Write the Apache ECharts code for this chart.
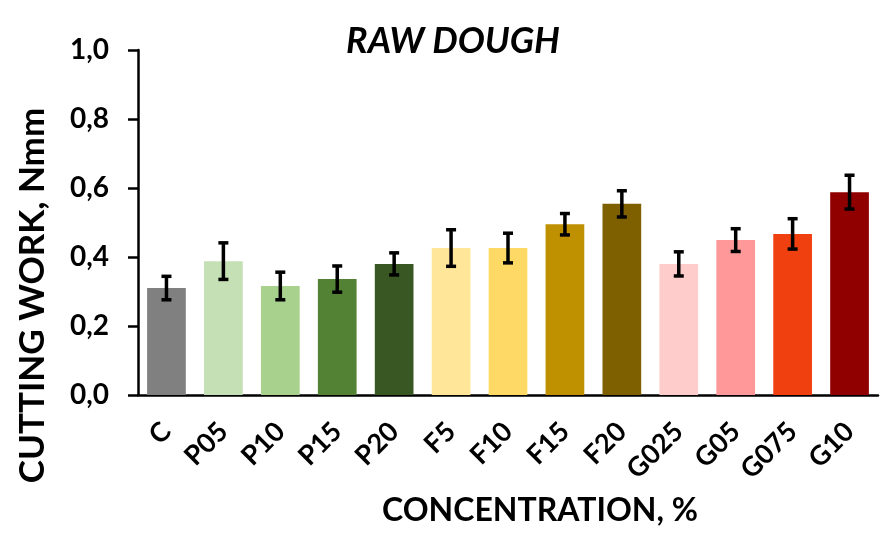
<!DOCTYPE html>
<html>
<head>
<meta charset="utf-8">
<script src="https://cdn.jsdelivr.net/npm/echarts@6/dist/echarts.min.js"></script>
<style>
	html, body { margin: 0; padding: 0; background: #fff; }
	#chart { width: 880px; height: 535px; }
</style>
</head>
<body>
<div id="chart"></div>
<script>
// sample names
var categories = ['C', 'P05', 'P10', 'P15', 'P20', 'F5', 'F10', 'F15', 'F20', 'G025', 'G05', 'G075', 'G10'];
// cutting work, Nmm
var meanValues = [0.31, 0.388, 0.316, 0.336, 0.38, 0.426, 0.426, 0.495, 0.554, 0.38, 0.449, 0.467, 0.588];
// standard deviation
var errValues = [0.034, 0.053, 0.04, 0.038, 0.032, 0.053, 0.043, 0.031, 0.038, 0.035, 0.033, 0.044, 0.049];
var barColors = ['#808080', '#c5e0b4', '#a9d18e', '#548235', '#385723', '#ffe699', '#ffd966', '#bf9000', '#7f6000', '#ffcccc', '#ff9999', '#f04010', '#900000'];

var font = 'Lato, "Open Sans", sans-serif';

var barData = meanValues.map(function(v, i) {
	return { value: v, itemStyle: { color: barColors[i] } };
});
var errData = meanValues.map(function(v, i) {
	return [i, v - errValues[i], v + errValues[i]];
});

var chart = echarts.init(document.getElementById('chart'));
chart.setOption({
	animation: false,
	title: {
		text: 'RAW DOUGH',
		left: 448,
		top: 18,
		textAlign: 'center',
		textStyle: { fontFamily: font, fontSize: 36, fontWeight: 'bold', fontStyle: 'italic', color: '#000' }
	},
	grid: { left: 138, right: 2, top: 50, bottom: 140 },
	xAxis: {
		type: 'category',
		data: categories,
		name: 'CONCENTRATION, %',
		nameLocation: 'middle',
		nameGap: 100,
		nameTextStyle: { fontFamily: font, fontSize: 32, fontWeight: 'bold', color: '#000', padding: [0, 0, 0, 64] },
		axisLine: { lineStyle: { color: '#000', width: 2.5 } },
		axisTick: { show: false },
		axisLabel: { rotate: 45, margin: 32, fontFamily: font, fontSize: 27, fontWeight: 'bold', color: '#000' }
	},
	yAxis: {
		type: 'value',
		min: 0,
		max: 1,
		interval: 0.2,
		name: 'CUTTING WORK, Nmm',
		nameLocation: 'middle',
		nameGap: 88,
		nameTextStyle: { fontFamily: font, fontSize: 35, fontWeight: 'bold', color: '#000', padding: [0, 146, 0, 0] },
		splitLine: { show: false },
		axisLine: { show: true, lineStyle: { color: '#000', width: 2.5 } },
		axisTick: { show: true, length: 10, lineStyle: { color: '#000', width: 2.5 } },
		axisLabel: {
			margin: 29,
			fontFamily: font,
			fontSize: 28,
			fontWeight: 'bold',
			color: '#000',
			formatter: function(v) { return v.toFixed(1).replace('.', ','); }
		}
	},
	series: [
		{
			type: 'bar',
			data: barData,
			barWidth: '68%'
		},
		{
			type: 'custom',
			data: errData,
			z: 10,
			renderItem: function(params, api) {
				var x = api.coord([api.value(0), api.value(1)])[0];
				var lo = api.coord([api.value(0), api.value(1)])[1];
				var hi = api.coord([api.value(0), api.value(2)])[1];
				var cap = 5;
				var st = { stroke: '#000', lineWidth: 3.5 };
				return {
					type: 'group',
					children: [
						{ type: 'line', shape: { x1: x, y1: lo, x2: x, y2: hi }, style: st },
						{ type: 'line', shape: { x1: x - cap, y1: hi, x2: x + cap, y2: hi }, style: st },
						{ type: 'line', shape: { x1: x - cap, y1: lo, x2: x + cap, y2: lo }, style: st }
					]
				};
			}
		}
	]
});
</script>
</body>
</html>
